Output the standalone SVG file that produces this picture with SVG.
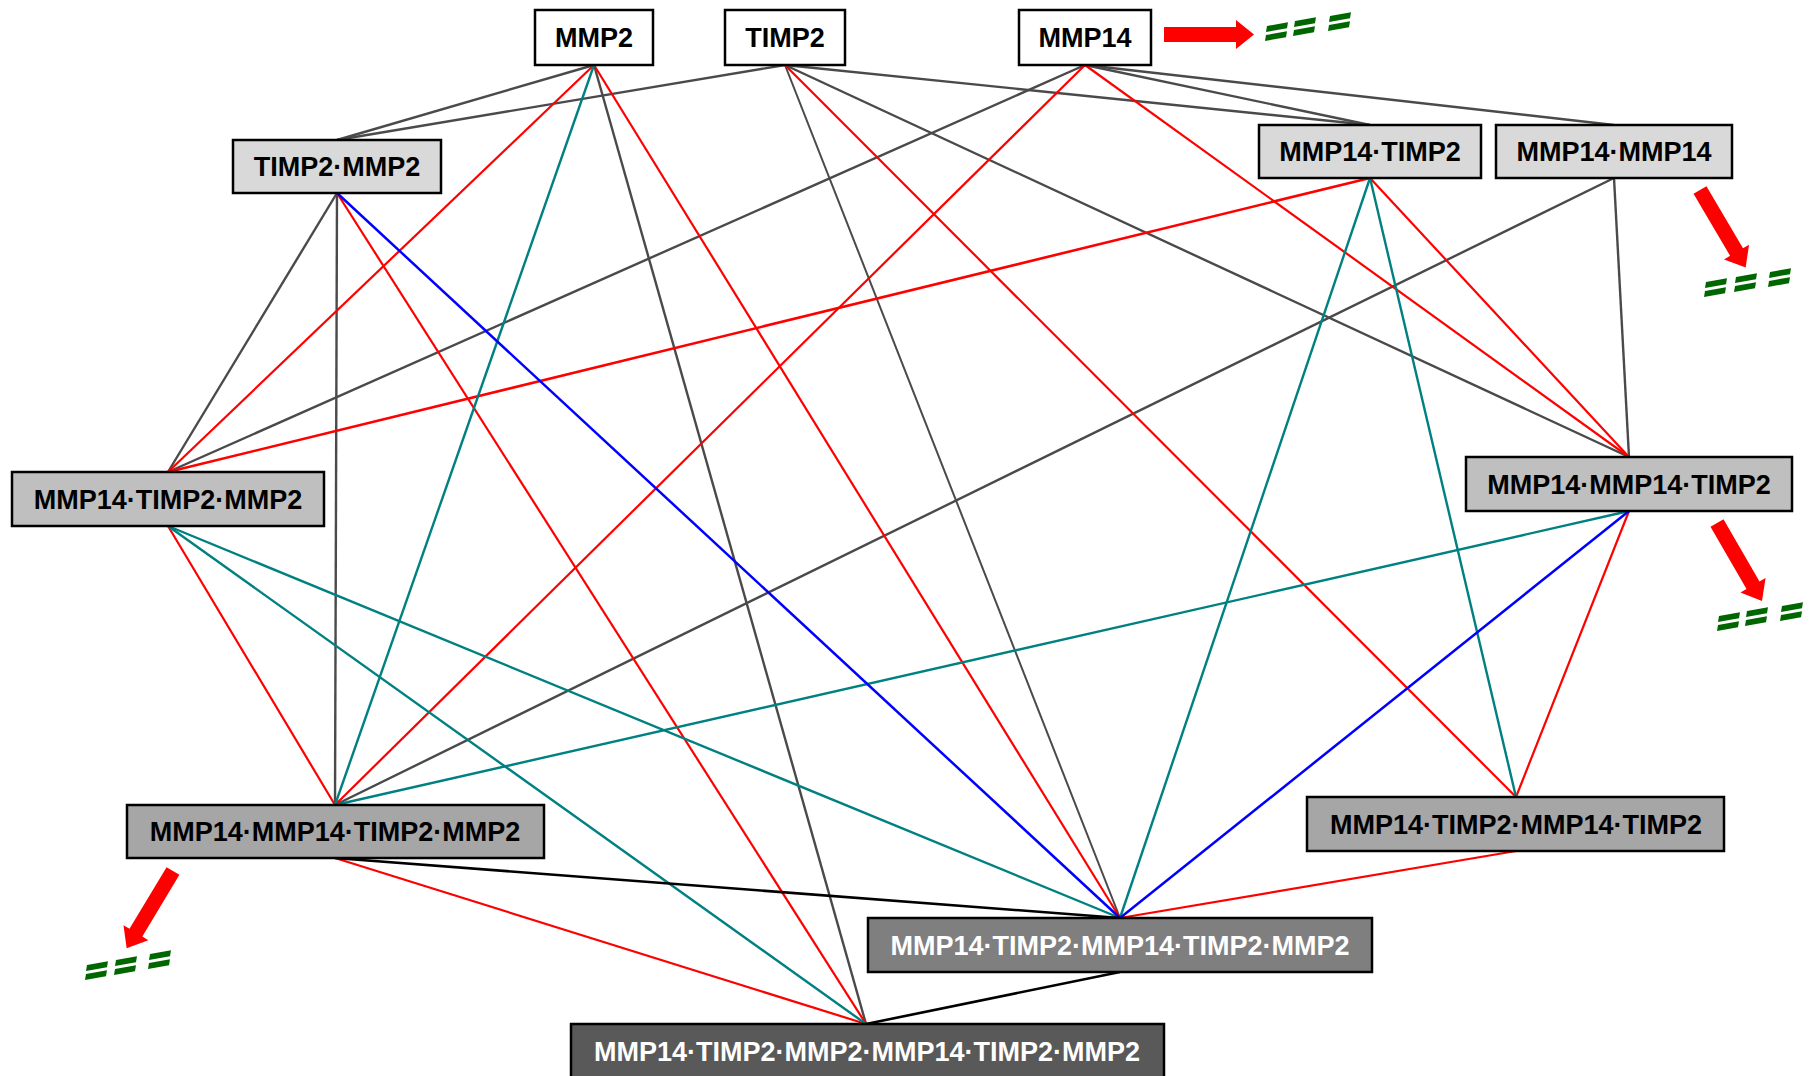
<svg xmlns="http://www.w3.org/2000/svg" width="1809" height="1076" viewBox="0 0 1809 1076">
<style>
.n rect{stroke:#000;stroke-width:2.5}
.n text{font-family:"Liberation Sans",Arial,sans-serif;font-weight:bold;font-size:27px;text-anchor:middle;fill:#000}
.n text.w{fill:#fff}
.c0{fill:#fff}.c1{fill:#d9d9d9}.c2{fill:#bfbfbf}.c3{fill:#a6a6a6}.c4{fill:#7f7f7f}.c5{fill:#595959}
#connectors line{fill:none}
.g{stroke:#4a4a4a;stroke-width:2.4}
.r{stroke:#ff0000;stroke-width:2.2}
.t{stroke:#008080;stroke-width:2.4}
.b{stroke:#0000ff;stroke-width:2.5}
.k{stroke:#000;stroke-width:2.6}
.arr{fill:#ff0000}
.eq{fill:#006600}
</style>
<defs>
<polygon id="arrow" points="0,-7.5 72,-7.5 72,-14.5 90,0 72,14.5 72,7.5 0,7.5"/>
<g id="eqmark">
<polygon points="-10,-6 11,-9.8 10,-3.8 -11,0"/>
<polygon points="-11,3 10,-0.8 9,5.2 -12,9"/>
</g>
</defs>
<rect width="1809" height="1076" fill="#fff"/>
<g id="connectors">
<line class="g" x1="594" y1="65" x2="337" y2="140"/>
<line class="g" x1="785" y1="65" x2="337" y2="140"/>
<line class="g" x1="785" y1="65" x2="1370" y2="125"/>
<line class="g" x1="785" y1="65" x2="1120" y2="918" style="stroke-width:2"/>
<line class="g" x1="785" y1="65" x2="1629" y2="457"/>
<line class="g" x1="1085" y1="65" x2="1370" y2="125"/>
<line class="g" x1="1085" y1="65" x2="1614" y2="125"/>
<line class="g" x1="1085" y1="65" x2="168" y2="472"/>
<line class="g" x1="594" y1="65" x2="866" y2="1024"/>
<line class="g" x1="337" y1="193" x2="168" y2="472"/>
<line class="g" x1="337" y1="193" x2="335" y2="805"/>
<line class="g" x1="1614" y1="178" x2="335" y2="805"/>
<line class="g" x1="1614" y1="178" x2="1629" y2="457"/>
<line class="r" x1="594" y1="65" x2="168" y2="472"/>
<line class="r" x1="594" y1="65" x2="1120" y2="918"/>
<line class="r" x1="785" y1="65" x2="1516" y2="797"/>
<line class="r" x1="1085" y1="65" x2="335" y2="805"/>
<line class="r" x1="1085" y1="65" x2="1629" y2="457"/>
<line class="r" x1="337" y1="193" x2="866" y2="1024"/>
<line class="r" x1="1370" y1="178" x2="168" y2="472" style="stroke-width:2.6"/>
<line class="r" x1="1370" y1="178" x2="1629" y2="457"/>
<line class="r" x1="168" y1="526" x2="335" y2="805"/>
<line class="r" x1="1629" y1="511" x2="1516" y2="797"/>
<line class="r" x1="335" y1="858" x2="866" y2="1024"/>
<line class="r" x1="1516" y1="851" x2="1120" y2="918"/>
<line class="t" x1="594" y1="65" x2="335" y2="805"/>
<line class="t" x1="1370" y1="178" x2="1120" y2="918"/>
<line class="t" x1="1370" y1="178" x2="1516" y2="797"/>
<line class="t" x1="168" y1="526" x2="1120" y2="918"/>
<line class="t" x1="168" y1="526" x2="866" y2="1024"/>
<line class="t" x1="1629" y1="511" x2="335" y2="805"/>
<line class="b" x1="337" y1="193" x2="1120" y2="918"/>
<line class="b" x1="1629" y1="511" x2="1120" y2="918"/>
<line class="k" x1="335" y1="858" x2="1120" y2="918"/>
<line class="k" x1="1120" y1="972" x2="866" y2="1024"/>
</g>
<g id="n-mmp2" class="n"><rect class="c0" x="535" y="10" width="118" height="55"/><text x="594" y="47">MMP2</text></g>
<g id="n-timp2" class="n"><rect class="c0" x="725" y="10" width="120" height="55"/><text x="785" y="47">TIMP2</text></g>
<g id="n-mmp14" class="n"><rect class="c0" x="1019" y="10" width="132" height="55"/><text x="1085" y="47">MMP14</text></g>
<g id="n-timp2-mmp2" class="n"><rect class="c1" x="233" y="140" width="208" height="53"/><text x="337" y="176">TIMP2·MMP2</text></g>
<g id="n-mmp14-timp2" class="n"><rect class="c1" x="1259" y="125" width="222" height="53"/><text x="1370" y="161">MMP14·TIMP2</text></g>
<g id="n-mmp14-mmp14" class="n"><rect class="c1" x="1496" y="125" width="236" height="53"/><text x="1614" y="161">MMP14·MMP14</text></g>
<g id="n-mmp14-timp2-mmp2" class="n"><rect class="c2" x="12" y="472" width="312" height="54"/><text x="168" y="509">MMP14·TIMP2·MMP2</text></g>
<g id="n-mmp14-mmp14-timp2" class="n"><rect class="c2" x="1466" y="457" width="326" height="54"/><text x="1629" y="494">MMP14·MMP14·TIMP2</text></g>
<g id="n-4a" class="n"><rect class="c3" x="127" y="805" width="417" height="53"/><text x="335" y="841">MMP14·MMP14·TIMP2·MMP2</text></g>
<g id="n-4b" class="n"><rect class="c3" x="1307" y="797" width="417" height="54"/><text x="1516" y="834">MMP14·TIMP2·MMP14·TIMP2</text></g>
<g id="n-5" class="n"><rect class="c4" x="868" y="918" width="504" height="54"/><text class="w" x="1120" y="955">MMP14·TIMP2·MMP14·TIMP2·MMP2</text></g>
<g id="n-6" class="n"><rect class="c5" x="571" y="1024" width="593" height="60"/><text class="w" x="867" y="1061">MMP14·TIMP2·MMP2·MMP14·TIMP2·MMP2</text></g>
<g id="degradation">
<use href="#arrow" class="arr" transform="translate(1164,34.5)"/>
<use href="#eqmark" class="eq" transform="translate(1277,32)"/>
<use href="#eqmark" class="eq" transform="translate(1305,27)"/>
<use href="#eqmark" class="eq" transform="translate(1340,22)"/>
<use href="#arrow" class="arr" transform="translate(1700,190) rotate(59.5)"/>
<use href="#eqmark" class="eq" transform="translate(1716,288)"/>
<use href="#eqmark" class="eq" transform="translate(1746,283)"/>
<use href="#eqmark" class="eq" transform="translate(1780,278)"/>
<use href="#arrow" class="arr" transform="translate(1717,523) rotate(60)"/>
<use href="#eqmark" class="eq" transform="translate(1729,622)"/>
<use href="#eqmark" class="eq" transform="translate(1757,617)"/>
<use href="#eqmark" class="eq" transform="translate(1792,612)"/>
<use href="#arrow" class="arr" transform="translate(173,871) rotate(121)"/>
<use href="#eqmark" class="eq" transform="translate(97,971)"/>
<use href="#eqmark" class="eq" transform="translate(126,966)"/>
<use href="#eqmark" class="eq" transform="translate(160,960)"/>
</g>
</svg>
